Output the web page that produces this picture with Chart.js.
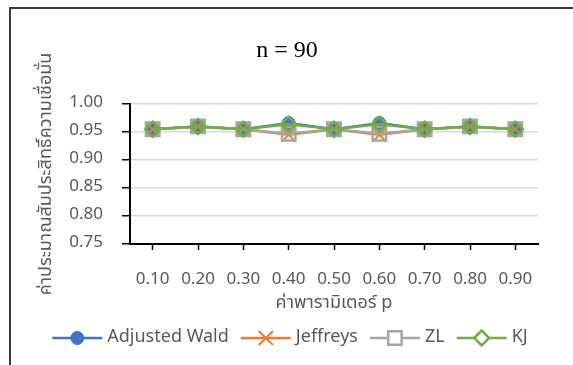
<!DOCTYPE html>
<html>

<head>
  <title>n = 90</title>
  <script src="https://cdn.jsdelivr.net/npm/chart.js"></script>
  <style>
    html, body { margin: 0; padding: 0; background: #fff; overflow: hidden; }
    #frame {
      position: absolute; left: 9px; top: 7px; width: 700px; height: 500px;
      border: 2px solid #3a3a3a; box-sizing: border-box;
    }
    #myChart { position: absolute; left: 0; top: 0; }
  </style>
</head>

<body>
  <div id="frame"></div>
  <canvas id="myChart" width="573" height="365"></canvas>
  <script>
    const categories = ['0.10', '0.20', '0.30', '0.40', '0.50', '0.60', '0.70', '0.80', '0.90'];
    const adjustedWald = [0.955, 0.960, 0.955, 0.966, 0.955, 0.966, 0.955, 0.960, 0.955];
    const jeffreys = [0.955, 0.960, 0.955, 0.945, 0.955, 0.945, 0.955, 0.960, 0.955];
    const zl = [0.955, 0.960, 0.955, 0.947, 0.955, 0.947, 0.955, 0.960, 0.955];
    const kj = [0.955, 0.960, 0.955, 0.964, 0.955, 0.964, 0.955, 0.960, 0.955];
    const yTicks = [0.75, 0.80, 0.85, 0.90, 0.95, 1.00];

    const thaiFont = "'Leelawadee UI', 'Noto Sans Thai', 'Open Sans', 'Noto Sans', sans-serif";
    const textColor = '#595959';

    // legend drawn as line + marker, like an office chart
    const lineLegend = {
      id: 'lineLegend',
      afterDraw(chart) {
        const ctx = chart.ctx;
        ctx.save();
        ctx.font = '18px ' + thaiFont;
        const seg = 50, gap = 5, space = 12;
        const items = chart.data.datasets.map(ds => ({ ds, w: ctx.measureText(ds.label).width }));
        const total = items.reduce((s, it) => s + seg + gap + it.w, 0) + space * (items.length - 1);
        let x = 290 - total / 2;
        const y = 338;
        items.forEach(it => {
          const ds = it.ds;
          ctx.strokeStyle = ds.borderColor;
          ctx.lineWidth = ds.borderWidth;
          ctx.beginPath();
          ctx.moveTo(x, y);
          ctx.lineTo(x + seg, y);
          ctx.stroke();
          ctx.fillStyle = ds.pointStyle === 'circle' ? ds.pointBackgroundColor : '#fff';
          ctx.strokeStyle = ds.pointBorderColor;
          ctx.lineWidth = ds.pointBorderWidth;
          Chart.helpers.drawPoint(ctx, {
            pointStyle: ds.pointStyle, rotation: 0,
            radius: ds.pointRadius, borderWidth: ds.pointBorderWidth
          }, x + seg / 2, y);
          ctx.fillStyle = textColor;
          ctx.textBaseline = 'middle';
          ctx.textAlign = 'left';
          ctx.fillText(ds.label, x + seg + gap, y);
          x += seg + gap + it.w + space;
        });
        ctx.restore();
      }
    };

    function series(label, data, color, style, radius, bw, fill, order) {
      return {
        label: label,
        data: data,
        borderColor: color,
        borderWidth: 2.5,
        pointStyle: style,
        pointRadius: radius,
        pointHoverRadius: radius,
        pointBorderWidth: bw,
        pointBorderColor: color,
        pointBackgroundColor: fill,
        tension: 0,
        order: order
      };
    }

    const ctx = document.getElementById('myChart').getContext('2d');
    const myChart = new Chart(ctx, {
      type: 'line',
      data: {
        labels: categories,
        datasets: [
          series('Adjusted Wald', adjustedWald, '#4472C4', 'circle', 6.5, 1, '#4472C4', 4),
          series('Jeffreys', jeffreys, '#ED7D31', 'crossRot', 10, 2, '#ED7D31', 3),
          series('ZL', zl, '#A5A5A5', 'rect', 9.5, 2.5, 'rgba(0,0,0,0)', 2),
          series('KJ', kj, '#70AD47', 'rectRot', 7.5, 2.5, 'rgba(0,0,0,0)', 1)
        ]
      },
      options: {
        responsive: false,
        animation: false,
        layout: { padding: { left: 36, right: 35, top: 0, bottom: 47 } },
        plugins: {
          legend: { display: false },
          tooltip: { enabled: false },
          title: {
            display: true,
            text: 'n = 90',
            color: '#000',
            font: { family: "'Liberation Serif', 'Times New Roman', serif", size: 24, weight: 'normal', lineHeight: 1.2 },
            padding: { top: 36.6, bottom: 38.6 }
          }
        },
        scales: {
          x: {
            offset: true,
            afterFit: s => { s.height = 74; },
            grid: { display: true, drawOnChartArea: false, offset: false, tickLength: 6, tickColor: '#000', tickWidth: 1.5 },
            border: { color: '#000', width: 2 },
            ticks: { color: textColor, padding: 20, font: { family: thaiFont, size: 17 } },
            title: {
              display: true,
              text: 'ค่าพารามิเตอร์ p',
              color: textColor,
              font: { family: thaiFont, size: 18, lineHeight: 1.2 },
              padding: { top: 0, bottom: 3 }
            }
          },
          y: {
            min: 0.75,
            max: 1.0,
            afterFit: s => { s.width = 94; },
            afterBuildTicks: s => { s.ticks = yTicks.map(v => ({ value: v })); },
            grid: { color: '#d9d9d9', lineWidth: 1.5, tickLength: 8, tickColor: '#000', tickWidth: 1.5 },
            border: { color: '#000', width: 2 },
            ticks: {
              color: textColor,
              padding: 19,
              font: { family: thaiFont, size: 17 },
              callback: v => Number(v).toFixed(2)
            },
            title: {
              display: true,
              text: 'ค่าประมาณสัมประสิทธิ์ความเชื่อมั่น',
              color: textColor,
              font: { family: thaiFont, size: 18, lineHeight: 1.2 },
              padding: { top: 1, bottom: 0 }
            }
          }
        }
      },
      plugins: [lineLegend]
    });
  </script>
</body>

</html>
